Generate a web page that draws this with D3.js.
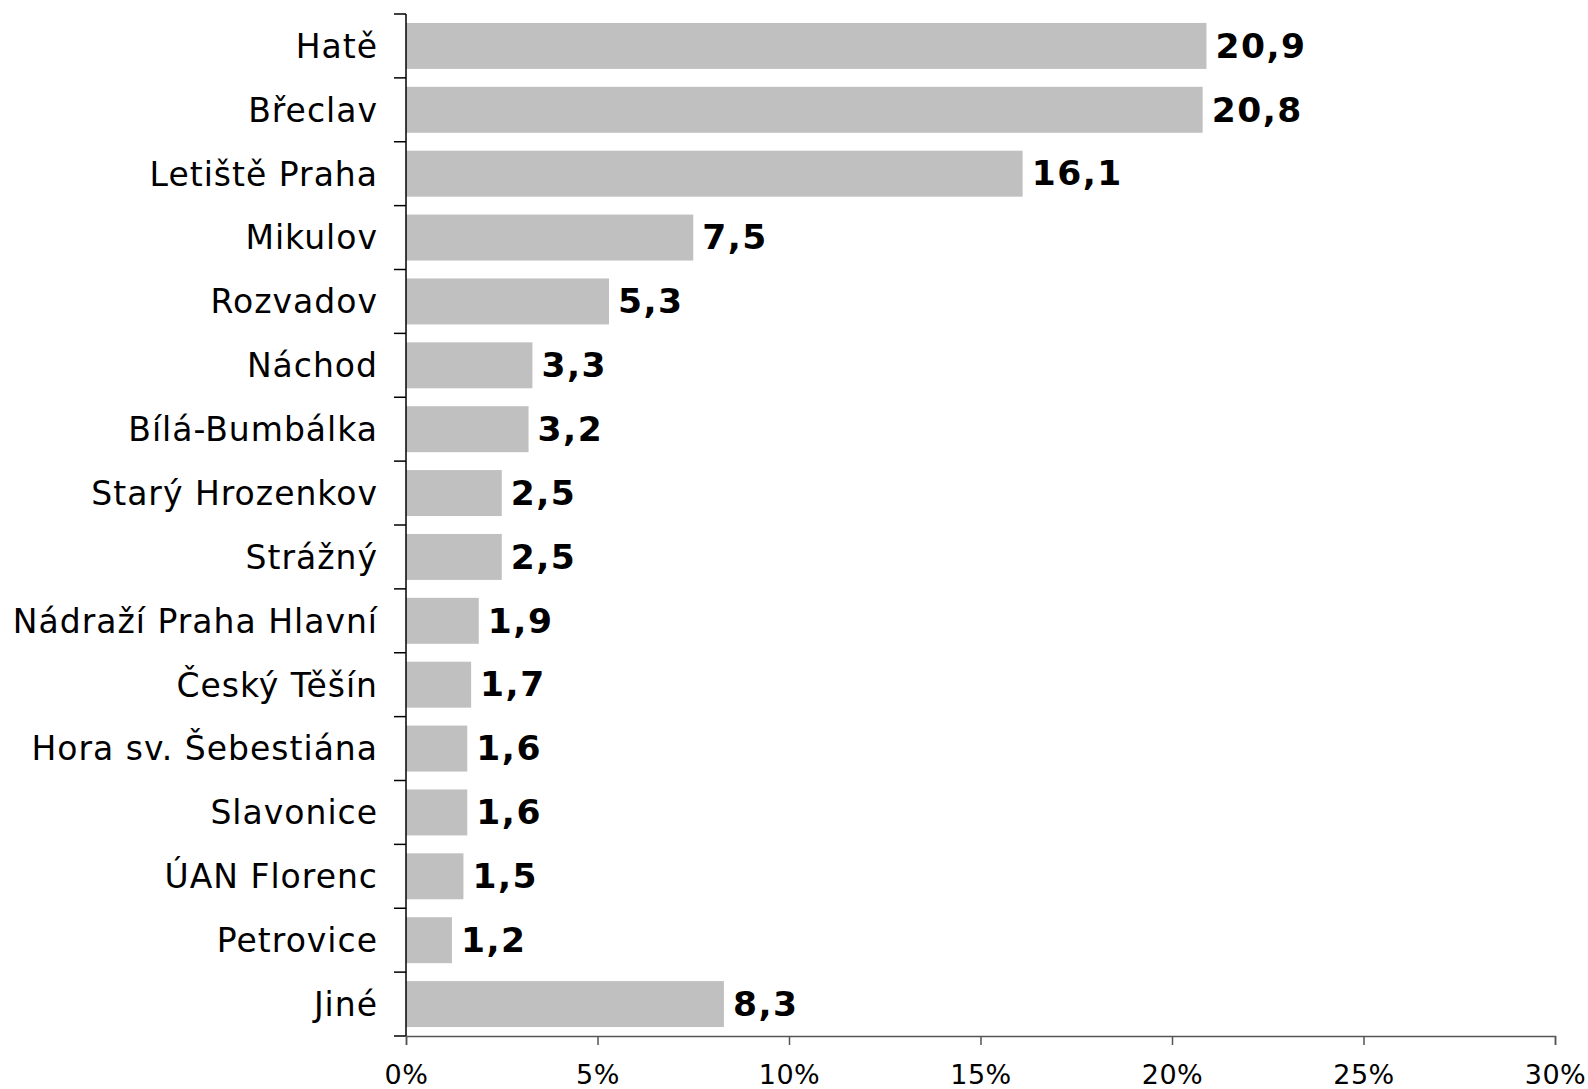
<!DOCTYPE html>
<html>
<head>
<meta charset="utf-8">
<script src="https://cdn.jsdelivr.net/npm/d3@7/dist/d3.min.js"></script>
<style>
  html, body { margin: 0; padding: 0; background: #fff; }
  svg { display: block; }
  text { font-family: "DejaVu Sans", Verdana, sans-serif; fill: #000; }
</style>
</head>
<body>
<script>
// Share of crossings by border point (%)
const categories = [
  "Hatě", "Břeclav", "Letiště Praha", "Mikulov", "Rozvadov", "Náchod",
  "Bílá-Bumbálka", "Starý Hrozenkov", "Strážný", "Nádraží Praha Hlavní",
  "Český Těšín", "Hora sv. Šebestiána", "Slavonice", "ÚAN Florenc",
  "Petrovice", "Jiné"
];
const values = [20.9, 20.8, 16.1, 7.5, 5.3, 3.3, 3.2, 2.5, 2.5, 1.9, 1.7, 1.6, 1.6, 1.5, 1.2, 8.3];
const xTicks = [0, 5, 10, 15, 20, 25, 30];

const W = 1588, H = 1089;
const plotLeft = 406, plotRight = 1555, plotTop = 14, plotBottom = 1036;

const svg = d3.select("body").append("svg")
  .attr("width", W).attr("height", H);

const x = d3.scaleLinear().domain([0, 30]).range([plotLeft, plotRight]);
const y = d3.scaleBand().domain(categories).range([plotTop, plotBottom])
  .paddingInner(0.28).paddingOuter(0.14);

// bars
svg.append("g").selectAll("rect").data(values).join("rect")
  .attr("x", x(0))
  .attr("y", (d, i) => y(categories[i]))
  .attr("width", d => x(d) - x(0))
  .attr("height", y.bandwidth())
  .attr("fill", "#c0c0c0");

// value labels
const fmt = v => d3.format(".1f")(v).replace(".", ",");
svg.append("g").selectAll("text").data(values).join("text")
  .attr("x", d => x(d) + 9)
  .attr("y", (d, i) => y(categories[i]) + y.bandwidth() / 2)
  .attr("dy", "0.34em")
  .attr("font-size", 34.5)
  .attr("font-weight", "bold")
  .attr("letter-spacing", 1.5)
  .text(fmt);

// category axis: ticks sit on the boundaries between bands
const step = y.step();
const boundaries = d3.range(categories.length + 1).map(i => plotTop + i * step);
const yAxis = svg.append("g");
yAxis.append("line")
  .attr("x1", plotLeft).attr("x2", plotLeft)
  .attr("y1", plotTop).attr("y2", plotBottom)
  .attr("stroke", "#000").attr("stroke-width", 1.5);
yAxis.selectAll("line.tick").data(boundaries).join("line")
  .attr("class", "tick")
  .attr("x1", plotLeft - 12).attr("x2", plotLeft)
  .attr("y1", d => d).attr("y2", d => d)
  .attr("stroke", "#000").attr("stroke-width", 1.5);
yAxis.selectAll("text").data(categories).join("text")
  .attr("x", plotLeft - 28)
  .attr("y", d => y(d) + y.bandwidth() / 2)
  .attr("dy", "0.36em")
  .attr("text-anchor", "end")
  .attr("font-size", 33)
  .attr("letter-spacing", 1)
  .text(d => d);

// value axis
const xAxis = svg.append("g")
  .attr("transform", `translate(0,${plotBottom})`)
  .call(d3.axisBottom(x).tickValues(xTicks).tickSize(9).tickPadding(20)
    .tickFormat(d => d + "%"));
xAxis.select(".domain").attr("stroke", "#555").attr("stroke-width", 1.5);
xAxis.selectAll(".tick line").attr("stroke", "#555").attr("stroke-width", 1.5);
xAxis.selectAll(".tick text")
  .attr("font-size", 27)
  .attr("letter-spacing", 0.5)
  .attr("font-family", "DejaVu Sans, Verdana, sans-serif")
  .attr("fill", "#000");
</script>
</body>
</html>
